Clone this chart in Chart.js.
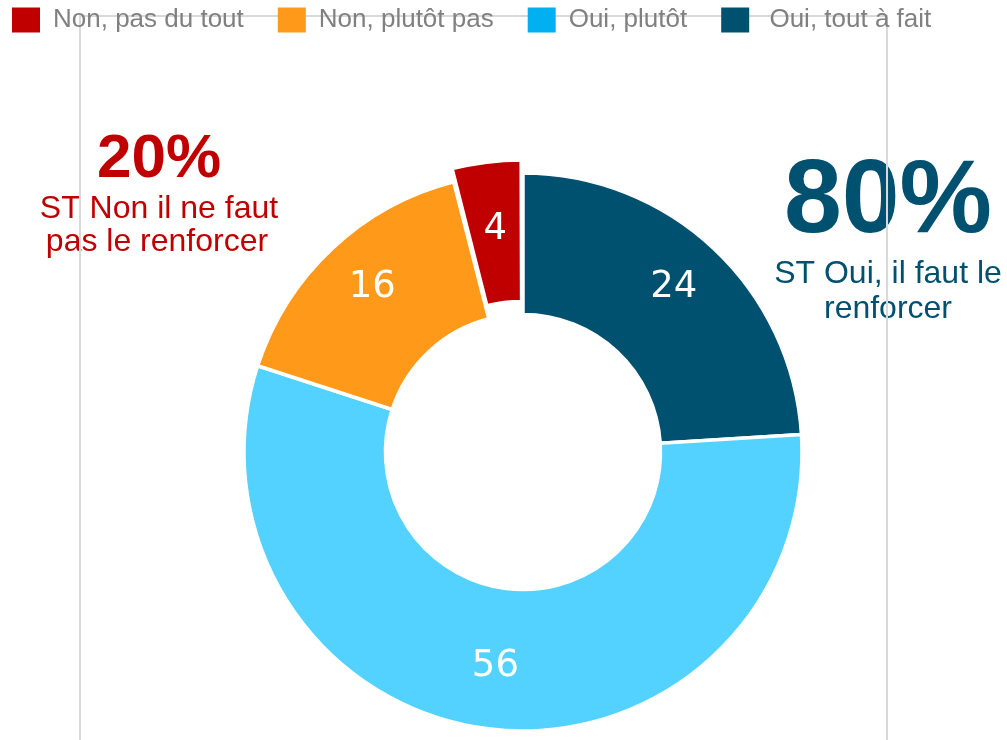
<!DOCTYPE html>
<html>
<head>
<meta charset="utf-8">
<script src="https://cdn.jsdelivr.net/npm/chart.js@4/dist/chart.umd.min.js"></script>
<style>
  html, body { margin: 0; padding: 0; background: #ffffff; }
  #wrap { width: 1007px; height: 740px; position: relative; }
</style>
</head>
<body>
<div id="wrap"><canvas id="c"></canvas></div>
<script>
// ---- data (clockwise from 12 o'clock) ----
const categories = ["Oui, tout à fait", "Oui, plutôt", "Non, plutôt pas", "Non, pas du tout"];
const values = [24, 56, 16, 4];
const legendLabels = [" Oui, tout à fait", "Oui, plutôt", "Non, plutôt pas", "Non, pas du tout"];
const sliceColors = ["#00506F", "#53D2FF", "#FF991A", "#C00000"];
const legendColors = ["#00506F", "#00B0F0", "#FF991A", "#C00000"];
const noTotal = "20%";
const noCaption = ["ST Non il ne faut", "pas le renforcer"];
const yesTotal = "80%";
const yesCaption = ["ST Oui, il faut le", "renforcer"];

// shift the plot area so the ring sits where the original places it
const areaShift = {
  id: 'areaShift',
  afterLayout(chart) {
    const a = chart.chartArea;
    a.right += 39; a.width += 39;
    a.bottom += 121; a.height += 121;
  }
};

const decorPlugin = {
  id: 'decor',
  beforeDraw(chart) {
    const ctx = chart.ctx;
    ctx.save();
    ctx.textAlign = 'center';
    ctx.textBaseline = 'alphabetic';
    // left annotation
    ctx.fillStyle = '#C00000';
    ctx.font = 'bold 62px "Liberation Sans", Arial, sans-serif';
    ctx.fillText(noTotal, 159, 177);
    ctx.font = '32px "Liberation Sans", Arial, sans-serif';
    ctx.fillText(noCaption[0], 159, 218);
    ctx.fillText(noCaption[1], 157, 251);
    // right annotation
    ctx.fillStyle = '#00506F';
    ctx.font = 'bold 104px "Liberation Sans", Arial, sans-serif';
    ctx.fillText(yesTotal, 888, 232);
    ctx.font = '32px "Liberation Sans", Arial, sans-serif';
    ctx.fillText(yesCaption[0], 888, 283);
    ctx.fillText(yesCaption[1], 888, 318);
    // frame lines
    ctx.strokeStyle = '#D9D9D9';
    ctx.lineWidth = 2;
    ctx.beginPath();
    ctx.moveTo(80, 745);
    ctx.lineTo(80, 16);
    ctx.lineTo(887, 16);
    ctx.lineTo(887, 745);
    ctx.stroke();
    ctx.restore();
  }
};

const valueLabels = {
  id: 'valueLabels',
  afterDatasetsDraw(chart) {
    const ctx = chart.ctx;
    const meta = chart.getDatasetMeta(0);
    ctx.save();
    ctx.fillStyle = '#FFFFFF';
    ctx.font = '37px "DejaVu Sans", Verdana, sans-serif';
    ctx.textAlign = 'center';
    ctx.textBaseline = 'middle';
    meta.data.forEach((arc, i) => {
      const p = arc.getProps(['x', 'y', 'startAngle', 'endAngle', 'innerRadius', 'outerRadius'], true);
      const mid = (p.startAngle + p.endAngle) / 2;
      const r = (p.innerRadius + p.outerRadius) / 2 + 12;
      const x = p.x + r * Math.cos(mid);
      const y = p.y + r * Math.sin(mid) - 4;
      ctx.fillText(String(chart.data.datasets[0].data[i]), x, y);
    });
    ctx.restore();
  }
};

new Chart(document.getElementById('c'), {
  type: 'doughnut',
  data: {
    labels: categories,
    datasets: [{
      data: values,
      backgroundColor: sliceColors,
      borderColor: '#FFFFFF',
      borderWidth: 3.5,
      offset: (ctx) => (ctx.dataIndex === 3 ? 30 : 0),
      hoverOffset: 0
    }]
  },
  options: {
    responsive: true,
    maintainAspectRatio: false,
    animation: false,
    radius: 279,
    cutout: '49.3%',
    rotation: 0,
    layout: { padding: { top: -27, left: -22, right: 0, bottom: 0 } },
    plugins: {
      tooltip: { enabled: false },
      legend: {
        position: 'top',
        align: 'start',
        reverse: true,
        labels: {
          boxWidth: 28,
          boxHeight: 25,
          padding: 34,
          color: '#808080',
          font: { family: '"Liberation Sans", Arial, sans-serif', size: 26 },
          generateLabels(chart) {
            return chart.data.labels.map((l, i) => ({
              text: legendLabels[i],
              fillStyle: legendColors[i],
              strokeStyle: legendColors[i],
              lineWidth: 0,
              fontColor: '#808080',
              hidden: false,
              index: i
            }));
          }
        }
      }
    }
  },
  plugins: [areaShift, decorPlugin, valueLabels]
});
</script>
</body>
</html>
